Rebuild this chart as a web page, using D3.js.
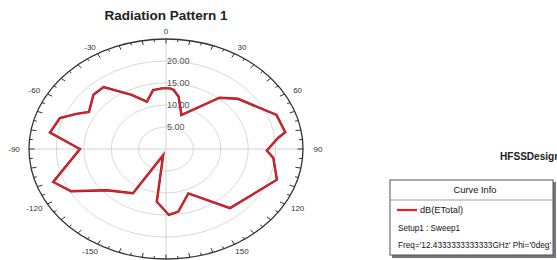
<!DOCTYPE html>
<html>
<head>
<meta charset="utf-8">
<script src="https://cdn.jsdelivr.net/npm/d3@7/dist/d3.min.js"></script>
<style>
  body { margin: 0; background: #fff; overflow: hidden; }
  svg { display: block; font-family: "Liberation Sans", Arial, sans-serif; }
</style>
</head>
<body>
<div id="chart"></div>
<script>
// pattern samples (deg, dB)
var angles = [3, 6, 11, 20, 40, 49, 69, 80, 83, 91, 96, 109, 124, 139, 158, 171, 178,
  -172, -160, -149, -131, -119, -110, -90, -80, -70, -64, -59, -47, -39, -27, -18, -10, -3];
var values = [13.8, 13.5, 12.1, 8.2, 15.2, 17.4, 21.6, 22.1, 20.6, 18.4, 19.7, 21.4, 18.8, 17.8, 10.9, 14.4, 15.0,
  12.1, 1.5, 11.7, 14.3, 19.8, 21.9, 15.7, 21.5, 20.6, 18.2, 16.4, 18.1, 18.1, 13.8, 11.3, 13.6, 13.8];

var ringValues = [5, 10, 15, 20];
var ringLabels = ["5.00", "10.00", "15.00", "20.00"];
var angleTicks = [-150, -120, -90, -60, -30, 0, 30, 60, 90, 120, 150];

var legendLines = ["Setup1 : Sweep1", "Freq='12.4333333333333GHz' Phi='0deg'"];
var legendWidths = [62, 153];

var W = 557, H = 260;
var cx = 166, cy = 149, rx = 137, ry = 110;

var svg = d3.select("#chart").append("svg")
  .attr("width", W).attr("height", H);

var r = d3.scaleLinear().domain([0, 25]).range([0, 1]);

function px(a, v) { return cx + rx * r(v) * Math.sin(a * Math.PI / 180); }
function py(a, v) { return cy - ry * r(v) * Math.cos(a * Math.PI / 180); }

// title
svg.append("text")
  .attr("x", 166).attr("y", 20)
  .attr("text-anchor", "middle")
  .style("font-weight", "bold").style("font-size", "13.5px")
  .style("fill", "#222")
  .text("Radiation Pattern 1");

// grid rings
svg.selectAll(".ring")
  .data(ringValues)
  .enter().append("ellipse")
  .attr("cx", cx).attr("cy", cy)
  .attr("rx", function(d) { return rx * r(d); })
  .attr("ry", function(d) { return ry * r(d); })
  .style("fill", "none").style("stroke", "#d4d4d4").style("stroke-width", 0.9);

// spokes
svg.selectAll(".spoke")
  .data([0, 90])
  .enter().append("line")
  .attr("x1", function(d) { return px(d, 25); })
  .attr("y1", function(d) { return py(d, 25); })
  .attr("x2", function(d) { return px(d + 180, 25); })
  .attr("y2", function(d) { return py(d + 180, 25); })
  .style("stroke", "#cfcfcf").style("stroke-width", 0.9);

// outer ellipse
svg.append("ellipse")
  .attr("cx", cx).attr("cy", cy).attr("rx", rx).attr("ry", ry)
  .style("fill", "none").style("stroke", "#333").style("stroke-width", 1.3);

// ticks every 5 deg
var minorTicks = d3.range(-180, 180, 5);
svg.selectAll(".tick")
  .data(minorTicks)
  .enter().append("line")
  .attr("x1", function(d) { return px(d, 25); })
  .attr("y1", function(d) { return py(d, 25); })
  .attr("x2", function(d) { return px(d, d % 10 == 0 ? 24.0 : 24.4); })
  .attr("y2", function(d) { return py(d, d % 10 == 0 ? 24.0 : 24.4); })
  .style("stroke", "#333").style("stroke-width", 1);

// angle labels
svg.selectAll(".alabel")
  .data(angleTicks)
  .enter().append("text")
  .attr("x", function(d) { return cx + (rx + 15) * Math.sin(d * Math.PI / 180); })
  .attr("y", function(d) { return cy - (ry + 8) * Math.cos(d * Math.PI / 180) + 3; })
  .attr("text-anchor", "middle")
  .style("font-size", "8px").style("fill", "#333")
  .text(function(d) { return d; });

// ring labels
svg.selectAll(".rlabel")
  .data(ringValues)
  .enter().append("text")
  .attr("x", cx + 1)
  .attr("y", function(d) { return cy - ry * r(d) + 3; })
  .style("font-size", "9px").style("fill", "#555")
  .text(function(d, i) { return ringLabels[i]; });

// pattern curve
var pts = angles.map(function(a, i) { return [a, values[i]]; });
var line = d3.line()
  .x(function(d) { return px(d[0], d[1]); })
  .y(function(d) { return py(d[0], d[1]); })
  .curve(d3.curveLinearClosed);

svg.append("path")
  .datum(pts)
  .attr("d", line)
  .style("fill", "none").style("stroke", "#7a1a1e").style("stroke-width", 2.4);
svg.append("path")
  .datum(pts)
  .attr("d", line)
  .style("fill", "none").style("stroke", "#e8202c").style("stroke-width", 1.5);

// design name (runs off the right edge like the source)
svg.append("text")
  .attr("x", 500).attr("y", 160)
  .style("font-size", "10.5px").style("font-weight", "bold").style("fill", "#222")
  .attr("textLength", 66).attr("lengthAdjust", "spacingAndGlyphs")
  .text("HFSSDesign1");

// legend box
var lg = svg.append("g").attr("transform", "translate(390,180)");
lg.append("rect")
  .attr("x", 2).attr("y", 2).attr("width", 164).attr("height", 76)
  .style("fill", "#777");
lg.append("rect")
  .attr("x", 0).attr("y", 0).attr("width", 163).attr("height", 75)
  .style("fill", "#fff").style("stroke", "#555").style("stroke-width", 1);
lg.append("text")
  .attr("x", 85).attr("y", 13)
  .attr("text-anchor", "middle")
  .style("font-size", "8.5px").style("fill", "#111")
  .attr("textLength", 43).attr("lengthAdjust", "spacingAndGlyphs")
  .text("Curve Info");
lg.append("line")
  .attr("x1", 0).attr("x2", 163).attr("y1", 20).attr("y2", 20)
  .style("stroke", "#888").style("stroke-width", 0.8);
lg.append("line")
  .attr("x1", 7).attr("x2", 27).attr("y1", 30).attr("y2", 30)
  .style("stroke", "#e8202c").style("stroke-width", 2.2);
lg.append("text")
  .attr("x", 30).attr("y", 33)
  .style("font-size", "8.5px").style("fill", "#111")
  .attr("textLength", 43).attr("lengthAdjust", "spacingAndGlyphs")
  .text("dB(ETotal)");
lg.selectAll(".ll")
  .data(legendLines)
  .enter().append("text")
  .attr("x", 8)
  .attr("y", function(d, i) { return 51 + i * 17; })
  .style("font-size", "8.5px").style("fill", "#111")
  .attr("textLength", function(d, i) { return legendWidths[i]; })
  .attr("lengthAdjust", "spacingAndGlyphs")
  .text(function(d) { return d; });
</script>
</body>
</html>
